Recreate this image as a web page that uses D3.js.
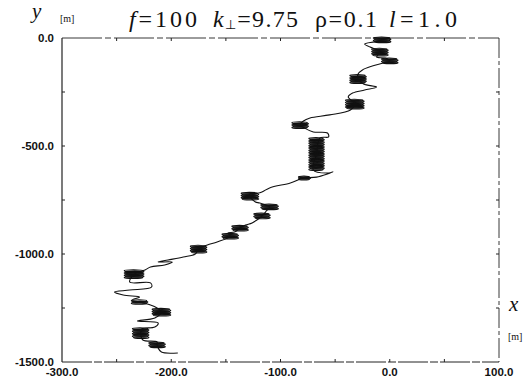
<!DOCTYPE html>
<html lang="en">
<head>
    <meta charset="UTF-8">
    <title>Trajectory f=100</title>
    <script src="https://d3js.org/d3.v7.min.js"></script>
    <style>
        body { margin: 0; background: #fff; }
        .tick-label { font-family: "Liberation Sans", Arial, sans-serif; font-size: 11.5px; font-weight: bold; fill: #111; }
        .serif { font-family: "Liberation Serif", "Times New Roman", serif; fill: #111; }
        .track { fill: none; stroke: #111; stroke-width: 1.1px; }
        .coil { fill: none; stroke: #111; stroke-width: 1.2px; }
    </style>
</head>
<body>
    <svg width="525" height="377"></svg>
    <script>
        // trajectory waypoints (metres)
        const trackX = [0, -7, -14, -23, -18, -9, -12, -4, 0, -6, -16, -25, -29, -29, -24, -12, -23, -34, -38, -32,
            -36, -55, -73, -79, -82, -78, -70, -57, -56, -64, -67, -70, -56, -52, -67, -78, -84, -91, -110, -117,
            -128, -123, -119, -110, -113, -117, -126, -132, -137, -142, -148, -146, -158, -167, -175, -178, -189,
            -203, -212, -199, -206, -219, -224, -234, -238, -219, -218, -238, -252, -244, -229, -236, -229, -219,
            -213, -209, -215, -231, -212, -215, -227, -228, -226, -213, -213, -212, -209, -194];
        const trackY = [0, -9, -18, -28, -42, -65, -88, -93, -106, -116, -130, -148, -167, -190, -213, -227, -241, -255, -273, -306,
            -333, -356, -370, -384, -403, -417, -435, -440, -458, -463, -537, -611, -625, -620, -644, -648, -657, -671, -694, -713,
            -732, -759, -764, -782, -801, -824, -856, -866, -880, -898, -903, -917, -944, -958, -977, -1000, -1014,
            -1028, -1037, -1037, -1051, -1060, -1074, -1093, -1130, -1134, -1153, -1167, -1176, -1190, -1199, -1213, -1222, -1236,
            -1250, -1269, -1296, -1310, -1319, -1338, -1347, -1366, -1398, -1407, -1421, -1435, -1454, -1458];

        // dense looping segments: centre, width and height in metres
        const coilX = [-7, -9, 0, -29, -32, -82, -67, -78, -128, -110, -117, -137, -146, -175, -234, -229, -209, -228, -213];
        const coilY = [-9, -65, -106, -190, -306, -403, -537, -648, -732, -782, -824, -880, -917, -977, -1093, -1222, -1269, -1366, -1421];
        const coilW = [15, 14, 14, 14, 16, 14, 13, 10, 15, 15, 14, 14, 14, 14, 17, 14, 16, 14, 14];
        const coilH = [23, 32, 23, 37, 42, 28, 148, 14, 32, 23, 23, 23, 23, 32, 37, 18, 32, 46, 23];

        const xTicks = [-300, -200, -100, 0, 100];
        const yTicks = [0, -500, -1000, -1500];

        const svg = d3.select("svg");
        const margin = { top: 38, right: 26, bottom: 15, left: 62 };
        const width = 525 - margin.left - margin.right,
            height = 377 - margin.top - margin.bottom;

        const x = d3.scaleLinear().domain([-300, 100]).range([margin.left, margin.left + width]);
        const y = d3.scaleLinear().domain([0, -1500]).range([margin.top, margin.top + height]);

        // frame
        const frame = svg.append("g").attr("stroke", "#222").attr("fill", "none");
        frame.append("line").attr("x1", x(-300)).attr("x2", x(-300)).attr("y1", y(0)).attr("y2", y(-1500)).attr("stroke-width", 1.2);
        frame.append("line").attr("x1", x(-300)).attr("x2", x(100)).attr("y1", y(-1500)).attr("y2", y(-1500))
            .attr("stroke-width", 1).attr("stroke-dasharray", "30,2,8,2");
        frame.append("line").attr("x1", x(-300)).attr("x2", x(100)).attr("y1", y(0)).attr("y2", y(0))
            .attr("stroke-width", 0.9).attr("stroke-dasharray", "40,3,6,3");
        frame.append("line").attr("x1", x(100)).attr("x2", x(100)).attr("y1", y(0)).attr("y2", y(-1500))
            .attr("stroke-width", 0.9).attr("stroke-dasharray", "20,3,4,3");

        // inward ticks
        const minorX = d3.range(-250, 100, 50);
        frame.selectAll(".bt").data(minorX).join("line")
            .attr("x1", d => x(d)).attr("x2", d => x(d))
            .attr("y1", y(-1500)).attr("y2", y(-1500) - 3);
        frame.selectAll(".tt").data(minorX).join("line")
            .attr("x1", d => x(d)).attr("x2", d => x(d))
            .attr("y1", y(0)).attr("y2", y(0) + 3);
        const minorY = d3.range(-250, -1500, -250);
        frame.selectAll(".lt").data(minorY).join("line")
            .attr("x1", x(-300)).attr("x2", x(-300) + 3)
            .attr("y1", d => y(d)).attr("y2", d => y(d));
        frame.selectAll(".rt").data(minorY).join("line")
            .attr("x1", x(100)).attr("x2", x(100) - 3)
            .attr("y1", d => y(d)).attr("y2", d => y(d));

        // tick labels
        svg.selectAll(".xl").data(xTicks).join("text")
            .attr("class", "tick-label")
            .attr("x", d => x(d)).attr("y", 376)
            .attr("text-anchor", "middle")
            .text(d => d.toFixed(1));
        svg.selectAll(".yl").data(yTicks).join("text")
            .attr("class", "tick-label")
            .attr("x", 54).attr("y", d => y(d) + 4)
            .attr("text-anchor", "end")
            .text(d => d.toFixed(1));

        // trajectory
        const line = d3.line().x((d, i) => x(trackX[i])).y((d, i) => y(trackY[i])).curve(d3.curveCatmullRom.alpha(0.5));
        svg.append("path").attr("class", "track").attr("d", line(trackX));

        // coils drawn as stacked flat loops
        const coils = coilX.map((cx, i) => ({ cx: cx, cy: coilY[i], w: coilW[i], h: coilH[i] }));
        coils.forEach(c => {
            const px = x(c.cx), py = y(c.cy);
            const rx = (x(c.w) - x(0)) / 2;
            const hp = y(-c.h) - y(0);
            const n = Math.max(3, Math.round(hp / 1.2));
            const loops = d3.range(n).map(k => py - hp / 2 + (k + 0.5) * hp / n);
            svg.append("g").selectAll("ellipse").data(loops).join("ellipse")
                .attr("class", "coil")
                .attr("cx", (d, k) => px + (k % 2 ? 0.6 : -0.6)).attr("cy", d => d)
                .attr("rx", rx).attr("ry", 0.9);
        });

        // title pieces, stretched to the widths seen in the original
        const titleParts = [
            { x: 129, len: 68, parts: [["f", true], ["=100", false]] },
            { x: 213, len: 85, parts: [["k", true], ["\u22a5", false, "sub"], ["=9.75", false]] },
            { x: 315, len: 62, parts: [["\u03c1=0.1", false]] },
            { x: 389, len: 68, parts: [["l", true], ["=1.0", false]] }
        ];
        titleParts.forEach(t => {
            const txt = svg.append("text").attr("class", "serif").attr("x", t.x).attr("y", 27)
                .attr("font-size", 24).attr("textLength", t.len).attr("lengthAdjust", "spacing");
            t.parts.forEach(p => {
                const s = txt.append("tspan").text(p[0]);
                if (p[1]) s.attr("font-style", "italic");
                if (p[2] === "sub") s.attr("font-size", 13).attr("dy", 2);
                else if (t.parts.some(q => q[2] === "sub") && p[0].startsWith("=")) s.attr("dy", -2);
            });
        });

        svg.append("text").attr("class", "serif").attr("x", 32).attr("y", 18)
            .attr("font-size", 21).attr("font-style", "italic").text("y");
        svg.append("text").attr("class", "serif").attr("x", 60).attr("y", 22)
            .attr("font-size", 10).text("[m]");
        svg.append("text").attr("class", "serif").attr("x", 509).attr("y", 311)
            .attr("font-size", 21).attr("font-style", "italic").text("x");
        svg.append("text").attr("class", "serif").attr("x", 508).attr("y", 340)
            .attr("font-size", 10).text("[m]");
    </script>
</body>
</html>
